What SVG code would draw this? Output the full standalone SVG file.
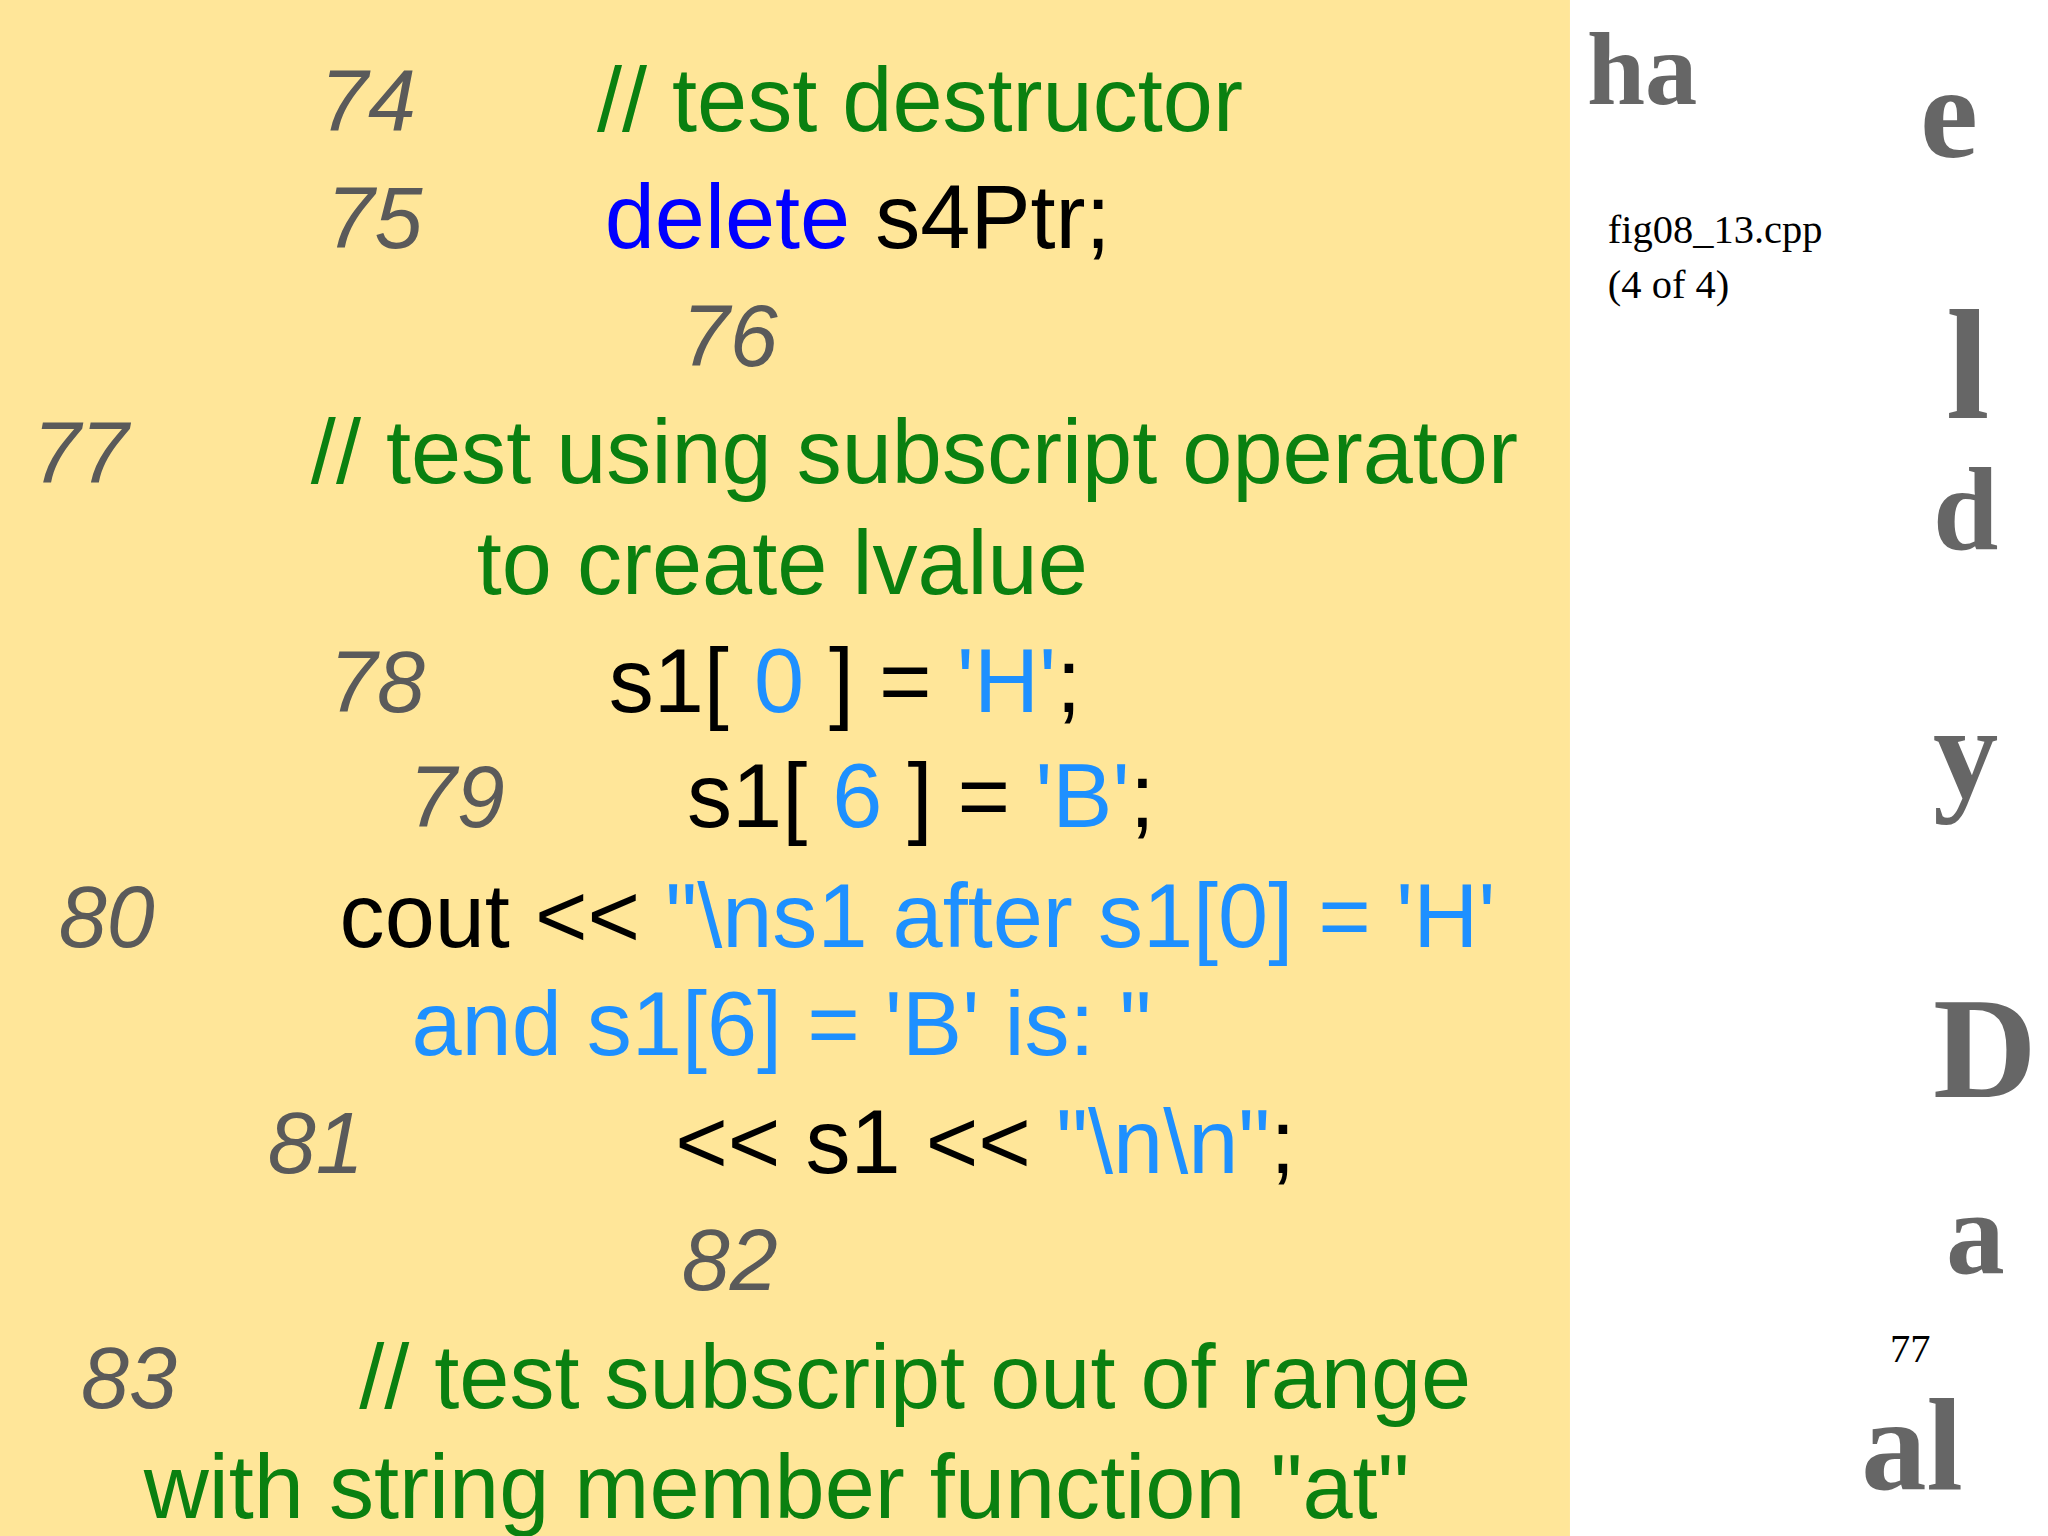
<svg xmlns="http://www.w3.org/2000/svg" width="2048" height="1536" viewBox="0 0 2048 1536">
<style>
.n{font-family:"Liberation Sans",Arial,sans-serif;font-style:italic;font-size:66px;fill:#5a5a5a}
.c{font-family:"Liberation Sans",Arial,sans-serif;font-size:69px}
.g{fill:#0a8010}.k{fill:#000}.b{fill:#0000ff}.s{fill:#1e90ff}
.f{font-family:"Liberation Serif","Times New Roman",serif;font-size:31px;fill:#000}
.d{font-family:"Liberation Serif",serif;font-weight:bold;fill:#333;opacity:0.75}
</style>
<g transform="scale(1.30612)">
<rect x="0" y="0" width="1568" height="1176" fill="#ffffff"/>
<g id="deco">
<text class="d" x="1215" y="80" font-size="80" opacity="0.5">ha</text>
<text class="d" x="1470" y="120" font-size="100">e</text>
<text class="d" x="1490" y="320" font-size="120" opacity="0.5">l</text>
<text class="d" x="1480" y="420" font-size="90">d</text>
<text class="d" x="1480" y="610" font-size="100" opacity="0.4">y</text>
<text class="d" x="1480" y="840" font-size="110">D</text>
<text class="d" x="1490" y="975" font-size="90" opacity="0.4">a</text>
<text class="d" x="1425" y="1140" font-size="100">al</text>
</g>
<rect x="0" y="0" width="1202" height="1176" fill="#ffe699"/>
<g id="code">
<text class="n" x="245" y="100">74</text>
<text class="c g" x="457" y="100">// test destructor</text>
<text class="n" x="250" y="190">75</text>
<text class="c" x="463" y="190"><tspan class="b">delete</tspan><tspan class="k"> s4Ptr;</tspan></text>
<text class="n" x="522" y="280">76</text>
<text class="n" x="25" y="370">77</text>
<text class="c g" x="238" y="370">// test using subscript operator</text>
<text class="c g" x="365" y="455">to create lvalue</text>
<text class="n" x="252" y="545">78</text>
<text class="c k" x="466" y="545">s1[ <tspan class="s">0</tspan> ] = <tspan class="s">'H'</tspan>;</text>
<text class="n" x="313" y="633">79</text>
<text class="c k" x="526" y="633">s1[ <tspan class="s">6</tspan> ] = <tspan class="s">'B'</tspan>;</text>
<text class="n" x="45" y="725">80</text>
<text class="c k" x="260" y="725">cout &lt;&lt; <tspan class="s">"\ns1 after s1[0] = 'H'</tspan></text>
<text class="c s" x="315" y="808">and s1[6] = 'B' is: "</text>
<text class="n" x="205" y="898">81</text>
<text class="c k" x="517" y="898">&lt;&lt; s1 &lt;&lt; <tspan class="s">"\n\n"</tspan>;</text>
<text class="n" x="522" y="988">82</text>
<text class="n" x="62" y="1078">83</text>
<text class="c g" x="275" y="1078">// test subscript out of range</text>
<text class="c g" x="110" y="1162">with string member function "at"</text>
</g>
<g id="side">
<text class="f" x="1231" y="186">fig08_13.cpp</text>
<text class="f" x="1231" y="228">(4 of 4)</text>
<text class="f" x="1447" y="1043" font-size="26">77</text>
</g>
</g>
</svg>
